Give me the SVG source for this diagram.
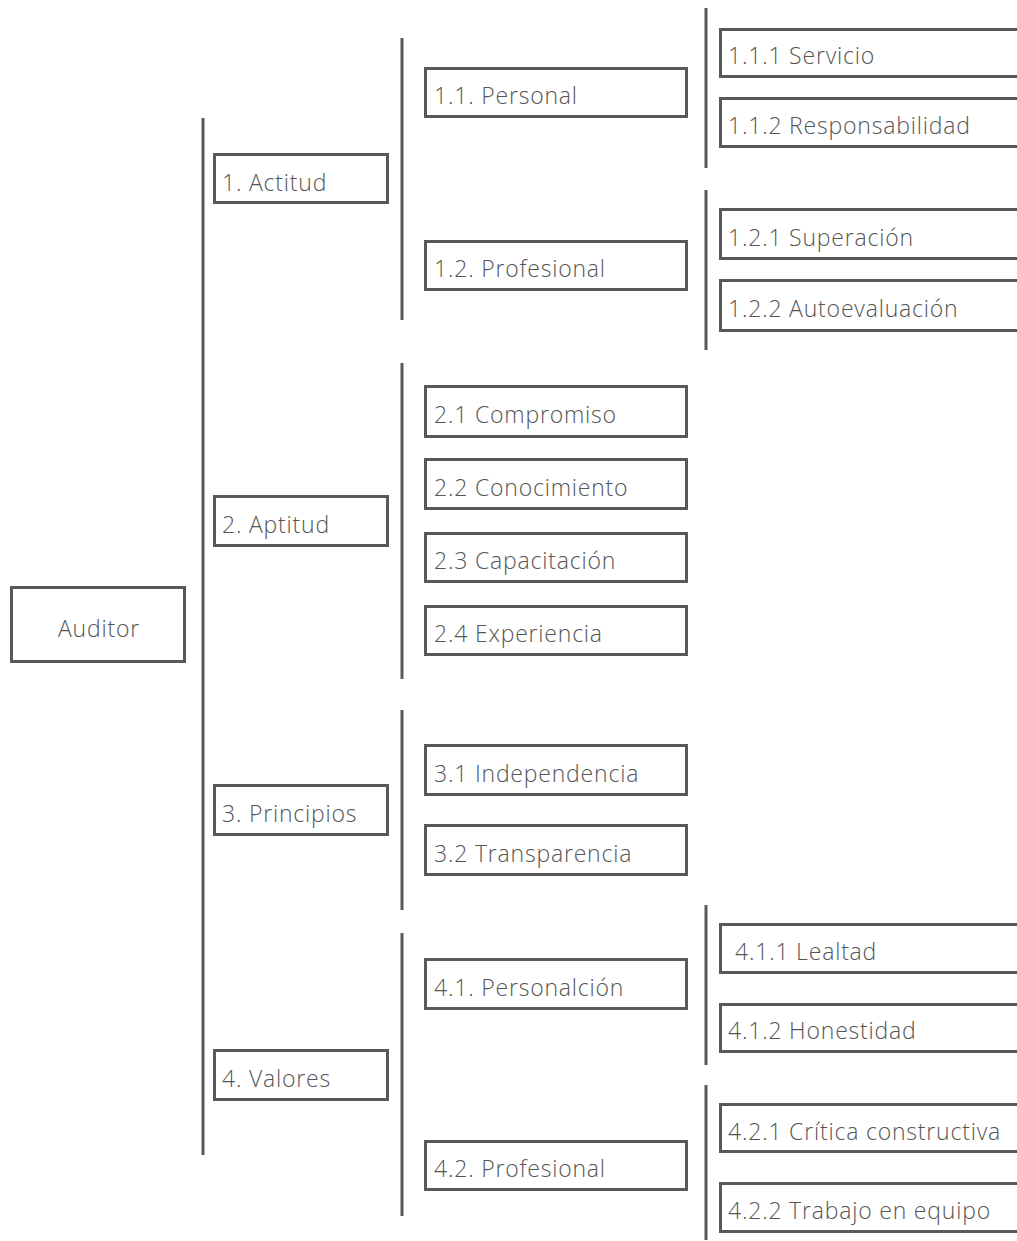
<svg xmlns="http://www.w3.org/2000/svg" width="1017" height="1241" viewBox="0 0 1017 1241">
  <style>
    .box { fill: #ffffff; stroke: #595959; stroke-width: 3; }
    .lbl { font-family: "Open Sans", "Liberation Sans", sans-serif; font-weight: 300; font-size: 23px; letter-spacing: 0.8px; fill: #555555; }
    .mid { text-anchor: middle; }
    .bar { stroke: #595959; stroke-width: 3; fill: none; }
  </style>
  <rect width="1017" height="1241" fill="#ffffff"/>

  <!-- vertical bracket lines -->
  <g id="connectors">
    <line class="bar" x1="203" y1="118" x2="203" y2="1155"/>
    <line class="bar" x1="402" y1="38" x2="402" y2="320"/>
    <line class="bar" x1="402" y1="363" x2="402" y2="679"/>
    <line class="bar" x1="402" y1="710" x2="402" y2="910"/>
    <line class="bar" x1="402" y1="933" x2="402" y2="1216"/>
    <line class="bar" x1="706" y1="8" x2="706" y2="168"/>
    <line class="bar" x1="706" y1="190" x2="706" y2="350"/>
    <line class="bar" x1="706" y1="905" x2="706" y2="1065"/>
    <line class="bar" x1="706" y1="1085" x2="706" y2="1240"/>
  </g>

  <!-- root -->
  <g id="auditor">
    <rect class="box" x="11.5" y="587.5" width="173" height="74"/>
    <text class="lbl mid" x="99" y="637">Auditor</text>
  </g>

  <!-- level 1 -->
  <g id="n1">
    <rect class="box" x="214.5" y="154.5" width="173" height="48"/>
    <text class="lbl" x="222" y="191">1. Actitud</text>
  </g>
  <g id="n2">
    <rect class="box" x="214.5" y="496.5" width="173" height="49"/>
    <text class="lbl" x="222" y="533">2. Aptitud</text>
  </g>
  <g id="n3">
    <rect class="box" x="214.5" y="785.5" width="173" height="49"/>
    <text class="lbl" x="222" y="822">3. Principios</text>
  </g>
  <g id="n4">
    <rect class="box" x="214.5" y="1050.5" width="173" height="49"/>
    <text class="lbl" x="222" y="1087">4. Valores</text>
  </g>

  <!-- level 2 -->
  <g id="n1-1">
    <rect class="box" x="425.5" y="68.5" width="261" height="48"/>
    <text class="lbl" x="434" y="104">1.1. Personal</text>
  </g>
  <g id="n1-2">
    <rect class="box" x="425.5" y="241.5" width="261" height="48"/>
    <text class="lbl" x="434" y="277">1.2. Profesional</text>
  </g>
  <g id="n2-1">
    <rect class="box" x="425.5" y="386.5" width="261" height="50"/>
    <text class="lbl" x="434" y="423">2.1 Compromiso</text>
  </g>
  <g id="n2-2">
    <rect class="box" x="425.5" y="459.5" width="261" height="49"/>
    <text class="lbl" x="434" y="496">2.2 Conocimiento</text>
  </g>
  <g id="n2-3">
    <rect class="box" x="425.5" y="533.5" width="261" height="48"/>
    <text class="lbl" x="434" y="569">2.3 Capacitación</text>
  </g>
  <g id="n2-4">
    <rect class="box" x="425.5" y="606.5" width="261" height="48"/>
    <text class="lbl" x="434" y="642">2.4 Experiencia</text>
  </g>
  <g id="n3-1">
    <rect class="box" x="425.5" y="745.5" width="261" height="49"/>
    <text class="lbl" x="434" y="782">3.1 Independencia</text>
  </g>
  <g id="n3-2">
    <rect class="box" x="425.5" y="825.5" width="261" height="49"/>
    <text class="lbl" x="434" y="862">3.2 Transparencia</text>
  </g>
  <g id="n4-1">
    <rect class="box" x="425.5" y="959.5" width="261" height="49"/>
    <text class="lbl" x="434" y="996">4.1. Personalción</text>
  </g>
  <g id="n4-2">
    <rect class="box" x="425.5" y="1141.5" width="261" height="48"/>
    <text class="lbl" x="434" y="1177">4.2. Profesional</text>
  </g>

  <!-- level 3 (boxes run past the right edge) -->
  <g id="n1-1-1">
    <rect class="box" x="720.5" y="29.5" width="320" height="47"/>
    <text class="lbl" x="728" y="64">1.1.1 Servicio</text>
  </g>
  <g id="n1-1-2">
    <rect class="box" x="720.5" y="98.5" width="320" height="48"/>
    <text class="lbl" x="728" y="134">1.1.2 Responsabilidad</text>
  </g>
  <g id="n1-2-1">
    <rect class="box" x="720.5" y="209.5" width="320" height="49"/>
    <text class="lbl" x="728" y="246">1.2.1 Superación</text>
  </g>
  <g id="n1-2-2">
    <rect class="box" x="720.5" y="280.5" width="320" height="50"/>
    <text class="lbl" x="728" y="317">1.2.2 Autoevaluación</text>
  </g>
  <g id="n4-1-1">
    <rect class="box" x="720.5" y="924.5" width="320" height="48"/>
    <text class="lbl" x="735" y="960">4.1.1 Lealtad</text>
  </g>
  <g id="n4-1-2">
    <rect class="box" x="720.5" y="1004.5" width="320" height="47"/>
    <text class="lbl" x="728" y="1039">4.1.2 Honestidad</text>
  </g>
  <g id="n4-2-1">
    <rect class="box" x="720.5" y="1104.5" width="320" height="47"/>
    <text class="lbl" x="728" y="1140">4.2.1 Crítica constructiva</text>
  </g>
  <g id="n4-2-2">
    <rect class="box" x="720.5" y="1183.5" width="320" height="48"/>
    <text class="lbl" x="728" y="1219">4.2.2 Trabajo en equipo</text>
  </g>
</svg>
